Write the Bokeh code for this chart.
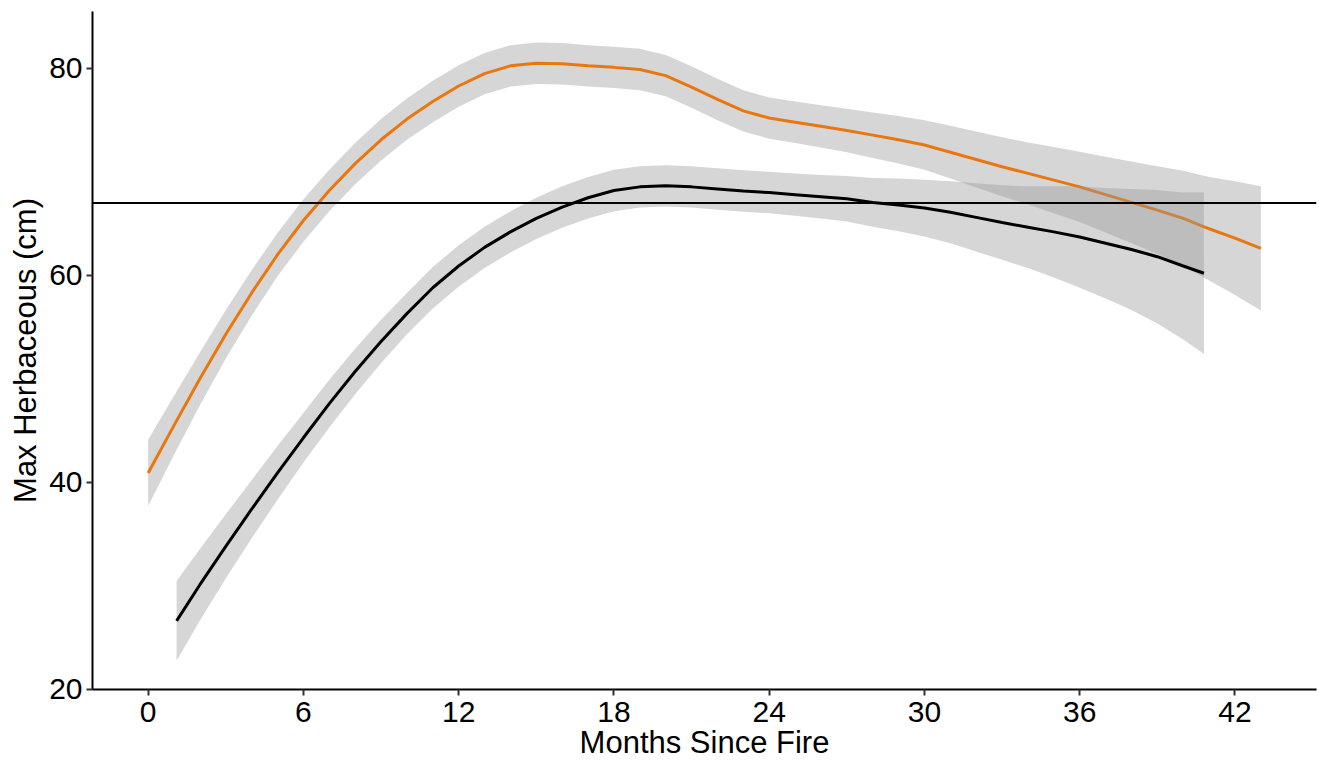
from bokeh.plotting import figure
from bokeh.models import Range1d, FixedTicker, Span
from bokeh.embed import file_html
from bokeh.resources import INLINE

# ---- data ----
burn_months = list(range(0, 44))
burn_fit = [40.9, 45.5, 50.0, 54.3, 58.3, 62.0, 65.3, 68.2, 70.8, 73.1,
            75.1, 76.8, 78.3, 79.5, 80.25, 80.5, 80.45, 80.25, 80.1, 79.9,
            79.3, 78.2, 77.0, 75.9, 75.2, 74.8, 74.4, 74.0, 73.55, 73.1,
            72.6, 71.9, 71.2, 70.5, 69.85, 69.2, 68.55, 67.8, 67.05, 66.3,
            65.5, 64.5, 63.6, 62.6]
burn_lower = [37.7, 42.65, 47.45, 51.95, 56.1, 59.9, 63.25, 66.2, 68.8, 71.1,
              73.1, 74.8, 76.3, 77.5, 78.25, 78.5, 78.45, 78.25, 78.1, 77.9,
              77.3, 76.2, 75.0, 73.9, 73.2, 72.8, 72.35, 71.9, 71.35, 70.8,
              70.2, 69.35, 68.5, 67.65, 66.85, 66.0, 65.15, 64.15, 63.1, 62.05,
              60.9, 59.5, 58.1, 56.6]
burn_upper = [44.1, 48.35, 52.55, 56.65, 60.5, 64.1, 67.35, 70.2, 72.8, 75.1,
              77.1, 78.8, 80.3, 81.5, 82.25, 82.5, 82.45, 82.25, 82.1, 81.9,
              81.3, 80.2, 79.0, 77.9, 77.2, 76.8, 76.45, 76.1, 75.75, 75.4,
              75.0, 74.45, 73.9, 73.35, 72.85, 72.4, 71.95, 71.45, 71.0, 70.55,
              70.1, 69.5, 69.1, 68.6]

ctrl_months = [1.1] + list(range(2, 41)) + [40.8]
ctrl_fit = [26.6, 30.1, 33.8, 37.4, 40.9, 44.3, 47.6, 50.7, 53.6, 56.3,
            58.8, 60.9, 62.7, 64.2, 65.5, 66.6, 67.5, 68.2, 68.55, 68.65,
            68.55, 68.35, 68.15, 68.0, 67.8, 67.6, 67.4, 67.05, 66.8, 66.5,
            66.1, 65.6, 65.1, 64.65, 64.2, 63.7, 63.1, 62.5, 61.8, 60.9, 60.2]
ctrl_lower = [22.75, 26.65, 30.7, 34.6, 38.3, 41.9, 45.3, 48.5, 51.5, 54.3,
              56.8, 58.9, 60.7, 62.2, 63.5, 64.6, 65.5, 66.2, 66.55, 66.65,
              66.55, 66.35, 66.15, 66.0, 65.75, 65.5, 65.2, 64.7, 64.25, 63.75,
              63.1, 62.3, 61.5, 60.7, 59.8, 58.8, 57.75, 56.65, 55.35, 53.8, 52.4]
ctrl_upper = [30.45, 33.55, 36.9, 40.2, 43.5, 46.7, 49.9, 52.9, 55.7, 58.3,
              60.8, 62.9, 64.7, 66.2, 67.5, 68.6, 69.5, 70.2, 70.55, 70.65,
              70.55, 70.35, 70.15, 70.0, 69.85, 69.7, 69.6, 69.4, 69.35, 69.25,
              69.1, 68.9, 68.7, 68.6, 68.6, 68.6, 68.45, 68.35, 68.25, 68.0, 68.0]

reference_level = 67.0
x_ticks = [0, 6, 12, 18, 24, 30, 36, 42]
y_ticks = [20, 40, 60, 80]
x_title = "Months Since Fire"
y_title = "Max Herbaceous (cm)"

FONT = "Liberation Sans"
ORANGE = "#E8770F"

p = figure(width=1320, height=762,
           x_range=Range1d(-2.15, 45.15), y_range=Range1d(19.97, 85.5),
           output_backend="svg", toolbar_location=None,
           min_border_left=92, min_border_right=4,
           min_border_top=11, min_border_bottom=73)

p.background_fill_color = "white"
p.border_fill_color = "white"
p.outline_line_color = None
p.xgrid.visible = False
p.ygrid.visible = False

# ribbons + lines
p.varea(x=burn_months, y1=burn_lower, y2=burn_upper,
        fill_color="#999999", fill_alpha=0.4)
p.line(burn_months, burn_fit, line_color=ORANGE, line_width=3)
p.varea(x=ctrl_months, y1=ctrl_lower, y2=ctrl_upper,
        fill_color="#999999", fill_alpha=0.4)
p.line(ctrl_months, ctrl_fit, line_color="black", line_width=3)

p.add_layout(Span(location=reference_level, dimension="width",
                  line_color="black", line_width=2))

for ax, ticks in ((p.xaxis[0], x_ticks), (p.yaxis[0], y_ticks)):
    ax.ticker = FixedTicker(ticks=ticks)
    ax.minor_tick_line_color = None
    ax.major_tick_in = 0
    ax.major_tick_out = 6
    ax.major_tick_line_width = 2
    ax.major_tick_line_color = "#333333"
    ax.axis_line_width = 2
    ax.axis_line_color = "black"
    ax.major_label_text_font = FONT
    ax.major_label_text_font_size = "30px"
    ax.major_label_text_color = "black"
    ax.axis_label_text_font = FONT
    ax.axis_label_text_font_size = "31px"
    ax.axis_label_text_font_style = "normal"
    ax.axis_label_text_color = "black"

p.xaxis.major_label_standoff = 6
p.yaxis.major_label_standoff = 4
p.xaxis.axis_label = x_title
p.yaxis.axis_label = y_title
p.xaxis.axis_label_standoff = 0
p.yaxis.axis_label_standoff = 3

open("out.html", "w").write(file_html(p, INLINE))
